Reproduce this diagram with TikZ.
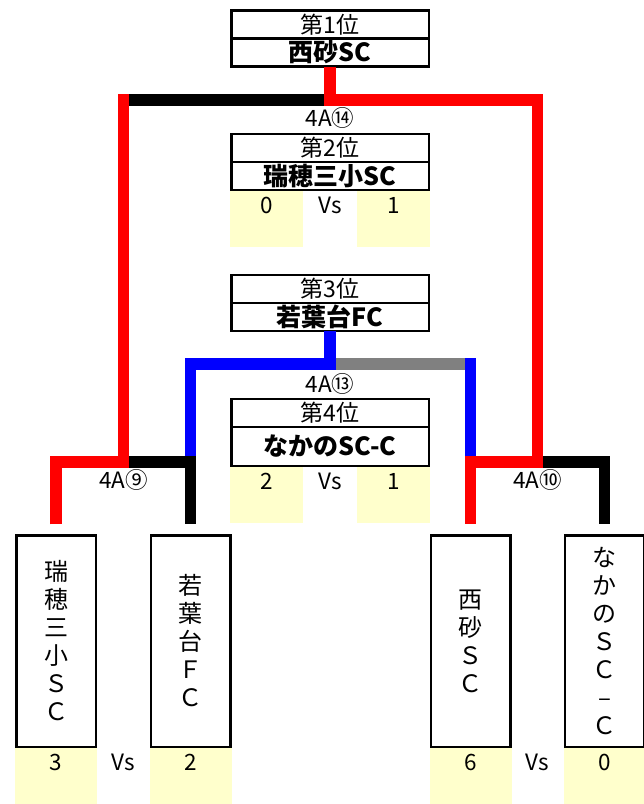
\documentclass[tikz,border=0pt]{standalone}
\usepackage{fontspec}
\setmainfont{Noto Sans CJK JP}
\usepackage{tikz}
\usetikzlibrary{positioning}
\usepackage{xcolor}
\definecolor{cellyellow}{HTML}{FFFFCC}
\definecolor{lostgray}{HTML}{808080}
\newcommand\rankfont{\fontsize{23}{26}\selectfont}
\newcommand\clubfont{\fontsize{25}{28}\selectfont\bfseries}
\newcommand\teamfont{\fontsize{24}{28}\selectfont}
\newcommand\scorefont{\fontsize{22.5}{26}\selectfont}

\begin{document}
\begin{tikzpicture}[x=1pt, y=-1pt,
rank/.style={draw, line width=2.5pt, outer sep=0pt, inner sep=0pt, minimum width=197.5pt, minimum height=28pt, font=\rankfont},
club/.style={rank, font=\clubfont},
team/.style={draw, line width=2.5pt, outer sep=0pt, inner sep=0pt, minimum width=79.5pt, minimum height=211.5pt, align=center, font=\teamfont},
score/.style={fill=cellyellow, inner sep=0pt, text height=22.5pt, text depth=33.5pt, font=\scorefont},
vs/.style={font=\scorefont, anchor=base},
match/.style={font=\scorefont, anchor=base},
bar/.style={line width=11.5pt}]
\useasboundingbox (0,0) rectangle (644,804);
\coordinate (j14) at (330,100);
\coordinate (j13) at (330,364);
\coordinate (j9) at (123.5,462);
\coordinate (j10) at (537.5,462);
% 1st and 2nd place
\node[rank] (rank1) at (330,24.5) {第1位};
\node[club, below=0pt of rank1] (club1) {西砂SC};
\node[match] (m14) at (330,126) {4A⑭};
\node[rank] (rank2) at (330,148) {第2位};
\node[club, below=0pt of rank2] (club2) {瑞穂三小SC};
\node[score, minimum width=73pt, below right=1.25pt and -1.25pt of club2.south west] (s2a) {0};
\node[score, minimum width=73pt, below left=1.25pt and -1.25pt of club2.south east] (s2b) {1};
\node[vs] (v2) at (s2a.base -| club2.south) {Vs};
% 3rd and 4th place
\node[rank] (rank3) at (330,289) {第3位};
\node[club, below=0pt of rank3] (club3) {若葉台FC};
\node[match] (m13) at (330,392) {4A⑬};
\node[rank] (rank4) at (330,413) {第4位};
\node[club, minimum height=39pt, below=0pt of rank4] (club4) {なかのSC-C};
\node[score, minimum width=73pt, below right=1.25pt and -1.25pt of club4.south west] (s4a) {2};
\node[score, minimum width=73pt, below left=1.25pt and -1.25pt of club4.south east] (s4b) {1};
\node[vs] (v4) at (s4a.base -| club4.south) {Vs};
% semi finals
\node[team] (teamA) at (56,641) {瑞\\穂\\三\\小\\Ｓ\\Ｃ};
\node[team] (teamB) at (190.5,641) {若\\葉\\台\\Ｆ\\Ｃ};
\node[team] (teamC) at (470.5,641) {西\\砂\\Ｓ\\Ｃ};
\node[team] (teamD) at (604.5,641) {な\\か\\の\\Ｓ\\Ｃ\\–\\Ｃ};
\node[score, minimum width=82pt, below=1.25pt of teamA] (sA) {3};
\node[score, minimum width=82pt, below=1.25pt of teamB] (sB) {2};
\node[score, minimum width=82pt, below=1.25pt of teamC] (sC) {6};
\node[score, minimum width=82pt, below=1.25pt of teamD] (sD) {0};
\node[vs] (vA) at (sA.base -| j9) {Vs};
\node[vs] (vC) at (sC.base -| j10) {Vs};
\node[match] (m9) at (123.5,488) {4A⑨};
\node[match] (m10) at (537.5,488) {4A⑩};
% lines
\draw[bar, black] (j9 |- j14) -- (j14);
\draw[bar, red] (club1.south) -- (j14) -| (j10) -| ([yshift=11pt]teamC.north);
\draw[bar, red] ([yshift=11pt]teamA.north) |- (j9) -- ([yshift=5.75pt]j9 |- j14);
\draw[bar, black] ([xshift=5.75pt]j9) -| ([yshift=11pt]teamB.north);
\draw[bar, black] ([xshift=5.75pt]j10) -| ([yshift=11pt]teamD.north);
\draw[bar, blue] (club3.south) -- (j13) -| ([yshift=5.75pt]teamB.north |- j9);
\draw[bar, lostgray] ([xshift=5.75pt]j13) -- ([xshift=-5.75pt]j13 -| teamC.north);
\draw[bar, blue] ([yshift=5.75pt]j13 -| teamC.north) -- ([yshift=5.75pt]teamC.north |- j10);
\end{tikzpicture}
\end{document}
